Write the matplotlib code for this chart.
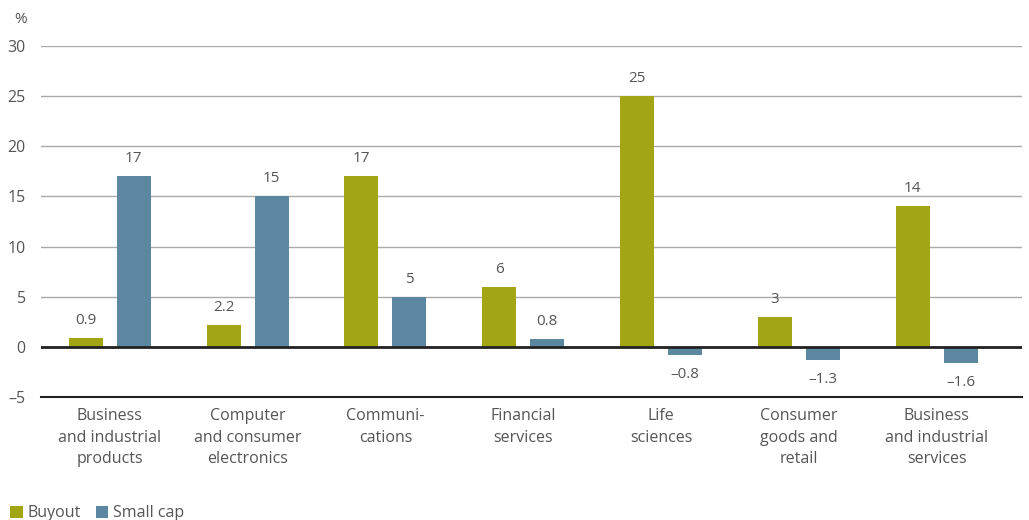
import matplotlib.pyplot as plt
import numpy as np

plt.rcParams['font.family'] = ['Open Sans', 'DejaVu Sans']

sectors = ['Business\nand industrial\nproducts', 'Computer\nand consumer\nelectronics',
           'Communi-\ncations', 'Financial\nservices', 'Life\nsciences',
           'Consumer\ngoods and\nretail', 'Business\nand industrial\nservices']
buyout = [0.9, 2.2, 17, 6, 25, 3, 14]
small_cap = [17, 15, 5, 0.8, -0.8, -1.3, -1.6]
yticks = [-5, 0, 5, 10, 15, 20, 25, 30]

olive = '#a3a614'
blue = '#5b87a0'
grey_txt = '#555555'

fig = plt.figure(figsize=(10.29, 5.2), dpi=100)
ax = fig.add_axes([0.0398, 0.2365, 0.9534, 0.675])

x = np.arange(len(sectors))
w = 0.247
off = 0.174
b1 = ax.bar(x - off, buyout, w, color=olive, label='Buyout', zorder=3)
b2 = ax.bar(x + off, small_cap, w, color=blue, label='Small cap', zorder=3)

def fmt(v):
    s = f'{v:g}'
    return s.replace('-', '\u2013')

for bars, vals in [(b1, buyout), (b2, small_cap)]:
    for r, v in zip(bars, vals):
        cx = r.get_x() + r.get_width() / 2
        if v >= 0:
            ax.text(cx, v + 1.0, fmt(v), ha='center', va='bottom', fontsize=11, color=grey_txt)
        else:
            ax.text(cx, v - 1.2, fmt(v), ha='center', va='top', fontsize=11, color=grey_txt)

ax.set_xlim(-0.5, 6.62)
ax.set_ylim(-5, 30)
ax.set_yticks(yticks)
ax.set_yticklabels([fmt(t) for t in yticks])
ax.grid(axis='y', color='#aaaaaa', linewidth=1, zorder=0)
ax.axhline(0, color='#222222', linewidth=2, zorder=4)
for s in ['top', 'right', 'left']:
    ax.spines[s].set_visible(False)
ax.spines['bottom'].set_color('#222222')
ax.spines['bottom'].set_linewidth(1.5)
ax.tick_params(axis='y', length=0, pad=11, labelsize=11.5, labelcolor=grey_txt)
ax.tick_params(axis='x', length=0, pad=8, labelsize=11.5, labelcolor=grey_txt)
ax.set_xticks(x)
ax.set_xticklabels(sectors, linespacing=1.45)

fig.text(0.0135, 0.955, '%', fontsize=11, color=grey_txt)

ax.legend(loc='lower left', bbox_to_anchor=(-0.046, -0.395), ncol=2, frameon=False,
          fontsize=11.5, labelcolor=grey_txt, handlelength=0.8, handleheight=0.8,
          handletextpad=0.3, columnspacing=0.9)

fig.savefig('out.png', dpi=100)
